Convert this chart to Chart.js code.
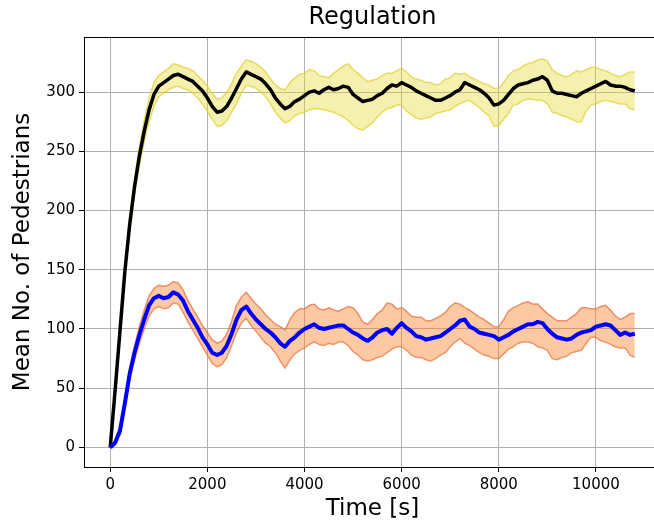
<!DOCTYPE html>
<html>
<head>
<meta charset="utf-8">
<script src="https://cdn.jsdelivr.net/npm/chart.js@4.4.0/dist/chart.umd.min.js"></script>
<style>
  html, body { margin: 0; padding: 0; overflow: hidden; background: #fff; }
  #wrap { width: 670px; height: 524px; }
</style>
</head>
<body>
<div id="wrap"><canvas id="chart" width="670" height="524"></canvas></div>
<script>
// time in seconds
const times = [
  0, 100, 200, 300, 400, 500, 600, 700, 800, 900,
  1000, 1100, 1200, 1300, 1400, 1500, 1600, 1700, 1800, 1900,
  2000, 2100, 2200, 2300, 2400, 2500, 2600, 2700, 2800, 2900,
  3000, 3100, 3200, 3300, 3400, 3500, 3600, 3700, 3800, 3900,
  4000, 4100, 4200, 4300, 4400, 4500, 4600, 4700, 4800, 4900,
  5000, 5100, 5200, 5300, 5400, 5500, 5600, 5700, 5800, 5900,
  6000, 6100, 6200, 6300, 6400, 6500, 6600, 6700, 6800, 6900,
  7000, 7100, 7200, 7300, 7400, 7500, 7600, 7700, 7800, 7900,
  8000, 8100, 8200, 8300, 8400, 8500, 8600, 8700, 8800, 8900,
  9000, 9100, 9200, 9300, 9400, 9500, 9600, 9700, 9800, 9900,
  10000, 10100, 10200, 10300, 10400, 10500, 10600, 10700, 10800]

// black mean + yellow band
const hiMean = [
  0, 48, 98, 148, 188, 220, 246, 267, 285, 298,
  305, 308, 311, 314, 315, 313, 311, 309, 305, 301,
  295, 288, 283, 284, 288, 295, 303, 311, 317, 315,
  313, 311, 307, 302, 295, 290, 286, 288, 292, 294,
  297, 300, 301, 299, 302, 304, 302, 303, 305, 304,
  298, 295, 292, 293, 294, 297, 299, 303, 306, 305,
  308, 306, 304, 301, 299, 297, 295, 293, 293, 295,
  297, 300, 302, 308, 306, 304, 302, 299, 295, 289,
  290, 293, 298, 303, 306, 307, 308, 310, 311, 313,
  310, 301, 299, 299, 298, 297, 296, 299, 301, 303,
  305, 307, 309, 306, 305, 305, 304, 302, 301]
const hiUpper = [
  0, 50, 101, 152, 193, 226, 254, 276, 295, 308,
  314, 317, 320, 324, 323, 321, 320, 318, 314, 310,
  305, 299, 294, 295, 300, 307, 316, 322, 327, 326,
  324, 321, 317, 311, 306, 303, 302, 308, 312, 315,
  316, 319, 318, 314, 313, 312, 316, 319, 322, 324,
  319, 316, 312, 309, 310, 311, 314, 316, 316, 318,
  320, 317, 313, 311, 310, 308, 308, 306, 307, 311,
  312, 316, 315, 316, 313, 311, 309, 307, 306, 303,
  303, 308, 314, 318, 319, 322, 324, 325, 327, 328,
  326, 319, 316, 314, 313, 315, 318, 317, 319, 321,
  321, 319, 318, 316, 314, 313, 315, 317, 317]
const hiLower = [
  0, 46, 95, 144, 183, 214, 238, 258, 275, 288,
  296, 299, 302, 304, 305, 303, 302, 299, 295, 290,
  284, 277, 271, 272, 276, 283, 290, 299, 306, 305,
  303, 300, 296, 290, 283, 278, 274, 276, 280, 282,
  283, 285, 286, 286, 285, 284, 283, 281, 279, 276,
  272, 269, 268, 271, 274, 279, 283, 286, 287, 289,
  289, 284, 281, 278, 277, 278, 279, 282, 283, 284,
  285, 288, 290, 292, 293, 290, 287, 283, 280, 271,
  272, 277, 282, 289, 290, 293, 294, 294, 293, 293,
  290, 283, 282, 280, 279, 277, 275, 275, 284, 289,
  290, 292, 293, 292, 291, 290, 290, 286, 285]

// blue mean + orange band
const loMean = [
  0, 4, 14, 37, 62, 80, 95, 108, 120, 126,
  128, 126, 127, 131, 129, 124, 115, 108, 101, 93,
  87, 80, 78, 80, 86, 96, 108, 116, 119, 113,
  108, 104, 100, 97, 93, 88, 85, 90, 93, 97,
  100, 102, 104, 101, 100, 101, 102, 103, 103, 100,
  97, 95, 92, 90, 93, 97, 99, 100, 96, 101,
  105, 101, 98, 94, 93, 91, 92, 93, 94, 97,
  100, 103, 107, 108, 102, 100, 97, 96, 95, 94,
  91, 93, 95, 98, 100, 102, 104, 104, 106, 105,
  100, 96, 93, 92, 91, 92, 95, 97, 98, 99,
  102, 103, 104, 103, 99, 95, 97, 95, 96]
const loUpper = [
  0, 6, 17, 41, 67, 86, 102, 116, 128, 134,
  137, 136, 137, 140, 139, 133, 124, 117, 110, 103,
  97, 91, 88, 90, 96, 107, 120, 127, 131, 126,
  121, 117, 112, 108, 104, 102, 99, 108, 114, 117,
  117, 120, 121, 117, 116, 118, 116, 115, 117, 119,
  118, 113, 106, 104, 108, 113, 116, 122, 121, 117,
  118, 115, 111, 110, 110, 107, 107, 109, 111, 114,
  119, 122, 121, 118, 116, 113, 110, 108, 105, 102,
  102, 108, 115, 118, 120, 122, 123, 121, 121, 117,
  113, 110, 107, 107, 107, 110, 113, 118, 118, 117,
  117, 119, 120, 116, 111, 108, 110, 113, 113]
const loLower = [
  0, 2, 11, 33, 57, 74, 88, 100, 111, 117,
  119, 117, 118, 122, 121, 114, 106, 99, 92, 85,
  78, 71, 68, 70, 76, 86, 97, 105, 109, 103,
  98, 93, 88, 85, 80, 73, 67, 74, 79, 82,
  84, 87, 89, 87, 86, 88, 87, 89, 89, 86,
  81, 78, 74, 73, 74, 76, 77, 80, 83, 85,
  85, 82, 78, 76, 76, 74, 73, 75, 78, 80,
  85, 89, 92, 88, 86, 83, 80, 78, 77, 75,
  75, 79, 83, 85, 88, 89, 89, 88, 85, 84,
  82, 75, 74, 76, 77, 80, 81, 82, 88, 93,
  93, 90, 89, 87, 85, 84, 84, 78, 76]

const xTicks = [0, 2000, 4000, 6000, 8000, 10000]
const yTicks = [0, 50, 100, 150, 200, 250, 300]

const YEL_FILL = "rgba(230, 215, 40, 0.38)"
const YEL_EDGE = "rgba(225, 210, 60, 0.75)"
const ORG_FILL = "rgba(250, 135, 50, 0.45)"
const ORG_EDGE = "rgba(225, 110, 60, 0.7)"

Chart.defaults.font.family = "'DejaVu Sans', sans-serif"
Chart.defaults.color = "#000"

const pts = ys => times.map((t, i) => ({ x: t, y: ys[i] }))

const plotTitle = {
  id: "plotTitle",
  afterDraw(chart) {
    const { ctx, chartArea } = chart
    ctx.save()
    ctx.font = "24px 'DejaVu Sans'"
    ctx.fillStyle = "#000"
    ctx.textAlign = "center"
    ctx.textBaseline = "middle"
    ctx.fillText("Regulation", (chartArea.left + chartArea.right) / 2, 18)
    ctx.restore()
  }
}

const frame = {
  id: "frame",
  afterDatasetsDraw(chart) {
    const { ctx, chartArea: { left, top, right, bottom } } = chart
    ctx.save()
    ctx.strokeStyle = "#000"
    ctx.lineWidth = 1
    ctx.strokeRect(left + 0.5, top + 0.5, right - left - 1, bottom - top)
    ctx.restore()
  }
}

const tickFont = { size: 15 }
const gridOpts = { color: "#b0b0b0", lineWidth: 1, tickColor: "#000", tickLength: 5 }

new Chart(document.getElementById("chart"), {
  type: "line",
  data: {
    datasets: [
      { data: pts(hiUpper), borderColor: YEL_EDGE, borderWidth: 1.5, backgroundColor: YEL_FILL, fill: "+1", order: 3 },
      { data: pts(hiLower), borderColor: YEL_EDGE, borderWidth: 1.5, fill: false, order: 3 },
      { data: pts(hiMean), borderColor: "#000", borderWidth: 3.5, fill: false, order: 1 },
      { data: pts(loUpper), borderColor: ORG_EDGE, borderWidth: 1.5, backgroundColor: ORG_FILL, fill: "+1", order: 2 },
      { data: pts(loLower), borderColor: ORG_EDGE, borderWidth: 1.5, fill: false, order: 2 },
      { data: pts(loMean), borderColor: "#0000ff", borderWidth: 4, fill: false, order: 0 },
    ]
  },
  options: {
    responsive: false,
    animation: false,
    elements: { point: { radius: 0 }, line: { tension: 0, borderJoinStyle: "round" } },
    layout: { padding: { top: 37, right: 9, left: 0, bottom: 0 } },
    plugins: {
      legend: { display: false },
      tooltip: { enabled: false },
    },
    scales: {
      x: {
        type: "linear",
        min: -540,
        max: 11340,
        afterBuildTicks: s => { s.ticks = xTicks.map(v => ({ value: v })) },
        afterFit: s => { s.height = 57 },
        ticks: { font: tickFont, color: "#000", padding: 4, maxRotation: 0, callback: v => String(v) },
        grid: gridOpts,
        border: { color: "#000", width: 1 },
        title: { display: true, text: "Time [s]", font: { size: 23 }, color: "#000", padding: { top: 2, bottom: 1 } },
      },
      y: {
        min: -16.5,
        max: 346.5,
        afterBuildTicks: s => { s.ticks = yTicks.map(v => ({ value: v })) },
        afterFit: s => { s.width = 84 },
        ticks: { font: tickFont, color: "#000", padding: 4, callback: v => String(v) },
        grid: gridOpts,
        border: { color: "#000", width: 1 },
        title: { display: true, text: "Mean No. of Pedestrians", font: { size: 23 }, color: "#000", padding: { top: 9, bottom: 0 } },
      },
    },
  },
  plugins: [plotTitle, frame],
})
</script>
</body>
</html>
